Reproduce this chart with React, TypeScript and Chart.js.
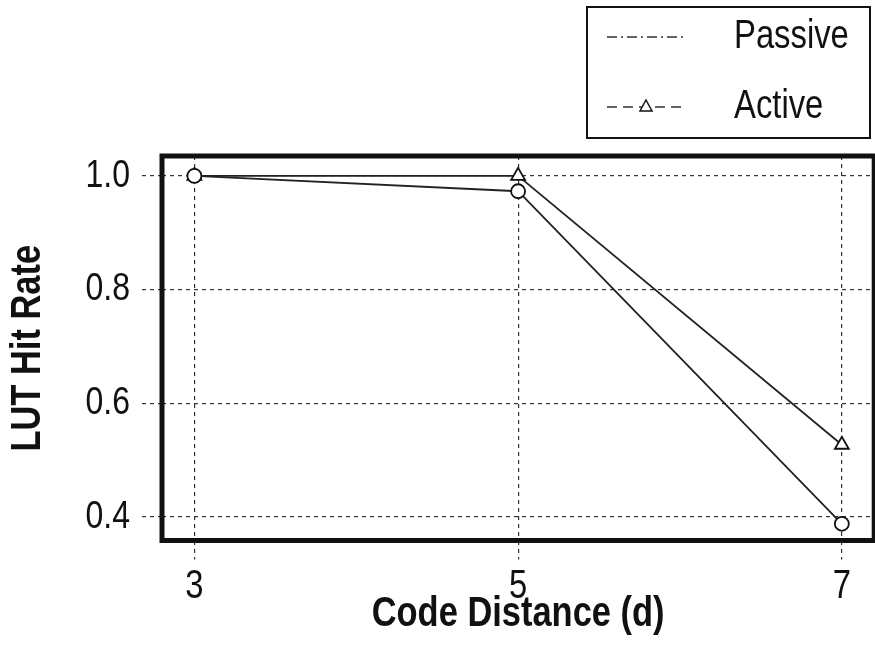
import React, { useEffect, useRef } from "react";
import { Chart, registerables } from "chart.js";

Chart.register(...registerables);

const codeDistances = [3, 5, 7];
const passiveHitRate = [1.0, 0.973, 0.388];
const activeHitRate = [1.0, 1.0, 0.527];
const yTickValues = [0.4, 0.6, 0.8, 1.0];
const xTickValues = [3, 5, 7];
const seriesLabels = ["Passive", "Active"];
const legendDashes = [[10, 4, 2, 4], [10, 6]];

const FONT = "'Liberation Sans', Arial, sans-serif";
const NARROW = 0.82;

// Condense all canvas text horizontally (Arial Narrow look)
const narrowTextPlugin = {
  id: "narrowText",
  beforeDraw(chart: any) {
    const ctx = chart.ctx;
    if (ctx.__narrowPatched) return;
    const orig = ctx.fillText.bind(ctx);
    ctx.fillText = (text: string, x: number, y: number) => {
      ctx.save();
      ctx.translate(x, y);
      ctx.scale(NARROW, 1);
      orig(text, 0, 0);
      ctx.restore();
    };
    ctx.__narrowPatched = true;
  },
};

const boxPlugin = {
  id: "boxPlugin",
  afterDraw(chart: any) {
    const { ctx, chartArea } = chart;
    ctx.save();
    ctx.strokeStyle = "#111";
    ctx.lineWidth = 5;
    ctx.setLineDash([]);
    ctx.strokeRect(chartArea.left, chartArea.top, chartArea.right - chartArea.left, chartArea.bottom - chartArea.top);
    ctx.restore();

    // legend
    ctx.save();
    ctx.strokeStyle = "#111";
    ctx.lineWidth = 2;
    ctx.strokeRect(587, 7, 283, 131);
    const rows = [37, 107];
    chart.data.datasets.forEach((ds: any, i: number) => {
      const y = rows[i];
      ctx.strokeStyle = "#333";
      ctx.lineWidth = 1.5;
      ctx.setLineDash(legendDashes[i]);
      ctx.beginPath();
      ctx.moveTo(607, y);
      ctx.lineTo(686, y);
      ctx.stroke();
      ctx.setLineDash([]);
      if (ds.pointStyle === "triangle") {
        ctx.fillStyle = "#fff";
        ctx.strokeStyle = "#111";
        ctx.lineWidth = 1.5;
        ctx.beginPath();
        ctx.moveTo(646, y - 7);
        ctx.lineTo(652, y + 4);
        ctx.lineTo(640, y + 4);
        ctx.closePath();
        ctx.fill();
        ctx.stroke();
      }
      ctx.fillStyle = "#111";
      ctx.font = `40px ${FONT}`;
      ctx.textAlign = "left";
      ctx.textBaseline = "middle";
      ctx.fillText(ds.label, 734, y);
    });
    ctx.restore();
  },
};

export default function App() {
  const ref = useRef<HTMLCanvasElement>(null);
  useEffect(() => {
    document.body.style.margin = "0";
    document.body.style.overflow = "hidden";
    const gridCommon = {
      color: "#333",
      lineWidth: 1.2,
      tickBorderDash: [4, 4],
      tickColor: "#333",
      tickWidth: 1.2,
      drawTicks: true,
    };
    const chart = new Chart(ref.current!, {
      type: "line",
      data: {
        labels: codeDistances,
        datasets: [
          {
            label: seriesLabels[0],
            data: codeDistances.map((x, i) => ({ x, y: passiveHitRate[i] })),
            borderColor: "#222",
            borderWidth: 1.8,
            pointStyle: "circle",
            pointRadius: 7,
            pointBackgroundColor: "#fff",
            pointBorderColor: "#111",
            pointBorderWidth: 1.8,
            fill: false,
            tension: 0,
          },
          {
            label: seriesLabels[1],
            data: codeDistances.map((x, i) => ({ x, y: activeHitRate[i] })),
            borderColor: "#222",
            borderWidth: 1.8,
            pointStyle: "triangle",
            pointRadius: 8,
            pointBackgroundColor: "#fff",
            pointBorderColor: "#111",
            pointBorderWidth: 1.8,
            fill: false,
            tension: 0,
          },
        ],
      },
      options: {
        animation: false,
        responsive: false,
        devicePixelRatio: 1,
        layout: { padding: { top: 156, left: 0, right: 1, bottom: 0 } },
        plugins: { legend: { display: false }, tooltip: { enabled: false } },
        scales: {
          x: {
            type: "linear",
            min: 2.8,
            max: 7.2,
            afterBuildTicks: (s: any) => {
              s.ticks = xTickValues.map((v) => ({ value: v }));
            },
            afterFit: (s: any) => {
              s.height = 123.5;
            },
            grid: { ...gridCommon, tickLength: 19 },
            border: { display: false, dash: [4, 4] },
            ticks: {
              color: "#111",
              padding: 3,
              font: { family: FONT, size: 40 },
              callback: (v: any) => String(v),
            },
            title: {
              display: true,
              text: "Code Distance (d)",
              color: "#111",
              font: { family: FONT, size: 42, weight: "bold" },
              padding: { top: 0, bottom: 24 },
            },
          },
          y: {
            min: 0.3586,
            max: 1.035,
            afterBuildTicks: (s: any) => {
              s.ticks = yTickValues.map((v) => ({ value: v }));
            },
            afterFit: (s: any) => {
              s.width = 162;
            },
            grid: { ...gridCommon, tickLength: 20 },
            border: { display: false, dash: [4, 4] },
            ticks: {
              color: "#111",
              padding: 12,
              font: { family: FONT, size: 39 },
              callback: (v: any) => Number(v).toFixed(1),
            },
            title: {
              display: true,
              text: "LUT Hit Rate",
              color: "#111",
              font: { family: FONT, size: 42, weight: "bold" },
              padding: { top: 3, bottom: 0 },
            },
          },
        },
      },
      plugins: [narrowTextPlugin, boxPlugin],
    } as any);
    return () => chart.destroy();
  }, []);
  return (
    <div style={{ position: "relative", width: 875, height: 664, overflow: "hidden", background: "#fff" }}>
      <canvas ref={ref} width={884} height={664} style={{ position: "absolute", left: 0, top: 0, width: 884, height: 664 }} />
    </div>
  );
}
